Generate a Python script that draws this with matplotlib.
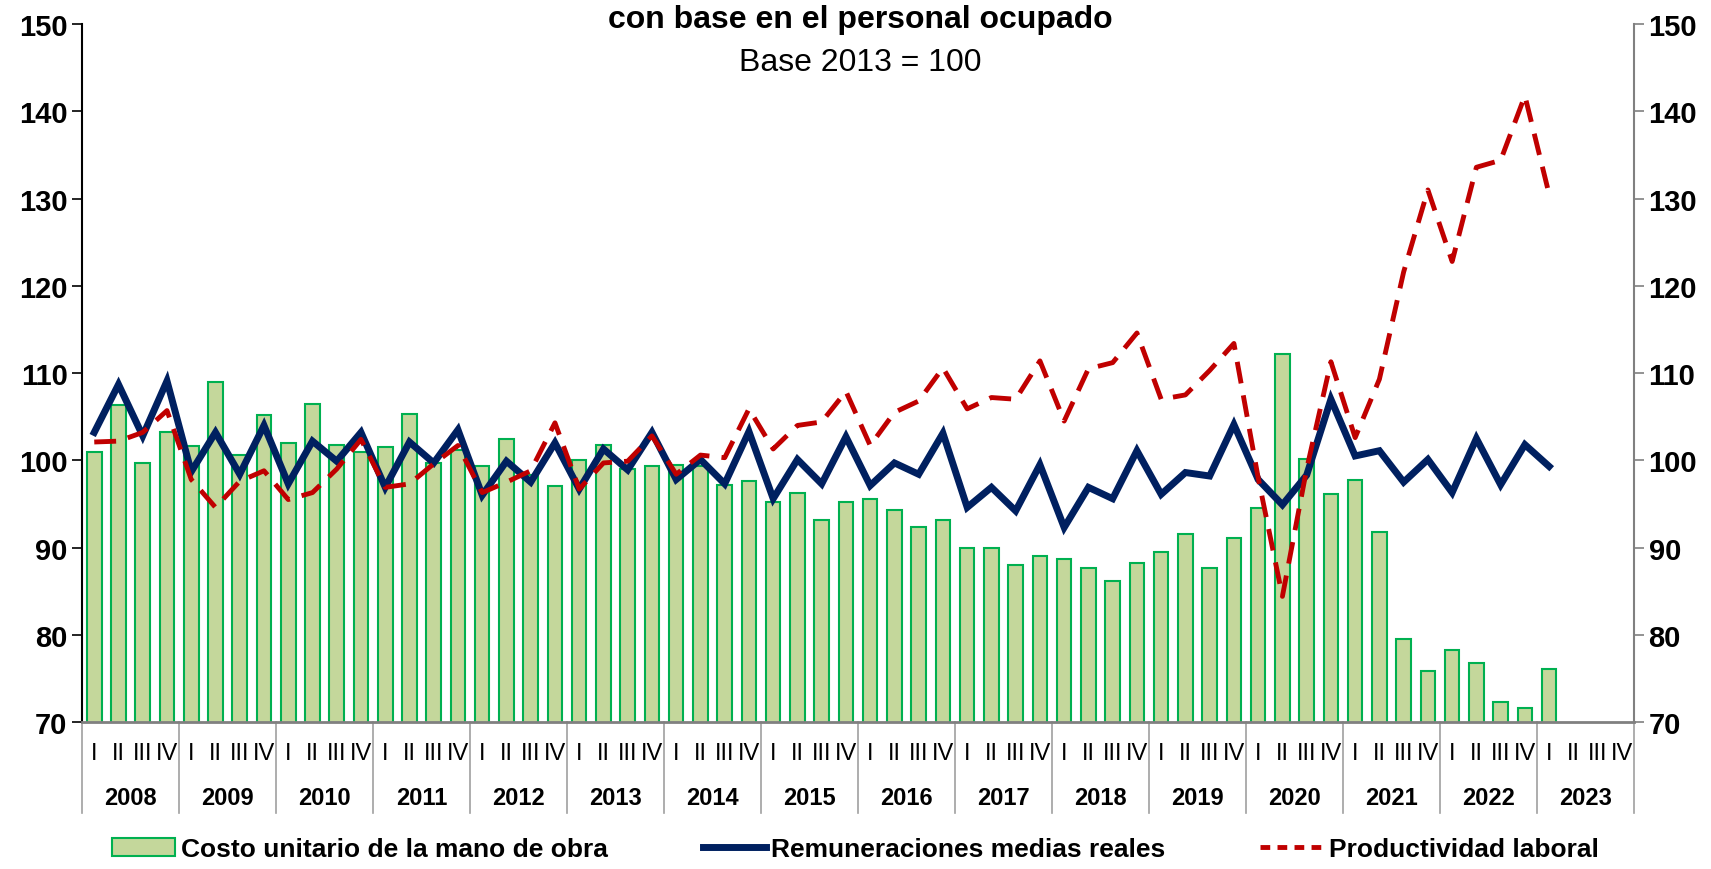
import numpy as np
import matplotlib
matplotlib.use("Agg")
import matplotlib.pyplot as plt
from matplotlib.lines import Line2D
from matplotlib.patches import Patch
import matplotlib.transforms as mtransforms

# datos trimestrales 2008-I a 2023-I
anios = [str(a) for a in range(2008, 2024)]
trimestres = ["I", "II", "III", "IV"]

costo_unitario = [101.0, 106.3, 99.7, 103.2,
                  101.6, 109.0, 100.6, 105.2,
                  102.0, 106.4, 101.7, 100.9,
                  101.5, 105.3, 99.7, 101.2,
                  99.4, 102.4, 98.3, 97.1,
                  100.0, 101.7, 99.0, 99.4,
                  99.5, 99.3, 97.2, 97.6,
                  95.2, 96.2, 93.2, 95.2,
                  95.6, 94.3, 92.3, 93.1,
                  90.0, 90.0, 88.0, 89.0,
                  88.7, 87.6, 86.2, 88.2,
                  89.5, 91.6, 87.7, 91.1,
                  94.5, 112.2, 100.2, 96.1,
                  97.8, 91.8, 79.5, 75.8,
                  78.2, 76.8, 72.3, 71.6,
                  76.1]

remuneraciones = [103.2, 108.7, 102.8, 109.1,
                  98.7, 103.2, 98.4, 104.0,
                  97.3, 102.2, 99.9, 103.2,
                  96.9, 102.1, 99.7, 103.5,
                  96.0, 99.9, 97.5, 102.0,
                  96.7, 101.3, 98.9, 103.2,
                  97.8, 100.1, 97.3, 103.3,
                  95.6, 100.1, 97.3, 102.7,
                  97.1, 99.7, 98.4, 103.1,
                  94.6, 96.9, 94.2, 99.5,
                  92.3, 96.9, 95.6, 101.1,
                  96.1, 98.6, 98.2, 104.1,
                  97.8, 94.9, 98.3, 107.0,
                  100.5, 101.1, 97.5, 100.1,
                  96.3, 102.5, 97.2, 101.8,
                  99.3]

productividad = [102.1, 102.2, 103.2, 105.7,
                 97.8, 94.6, 97.6, 98.8,
                 95.5, 96.3, 99.0, 102.4,
                 96.9, 97.3, 99.6, 101.7,
                 96.3, 97.5, 98.8, 104.3,
                 96.7, 99.7, 99.9, 102.8,
                 98.4, 100.6, 100.3, 105.9,
                 101.3, 104.0, 104.4, 107.9,
                 101.7, 105.5, 106.8, 110.6,
                 105.9, 107.2, 107.0, 111.4,
                 104.5, 110.5, 111.2, 114.6,
                 107.0, 107.5, 110.3, 113.4,
                 98.0, 84.4, 99.0, 111.3,
                 102.6, 109.3, 121.6, 131.0,
                 122.8, 133.6, 134.4, 141.8,
                 130.5]

plt.rcParams['font.family'] = ['Liberation Sans', 'DejaVu Sans']

fig = plt.figure(figsize=(17.11, 8.70), dpi=100)
ax = fig.add_axes([0.048, 0.169, 0.907, 0.802])

n_slots = len(anios) * 4
x = np.arange(len(costo_unitario))

ax.bar(x, costo_unitario, width=0.6, bottom=0, color="#C4D79B",
       edgecolor="#00B050", linewidth=1.5, zorder=2)
ax.plot(x, remuneraciones, color="#002060", linewidth=5, zorder=3,
        solid_joinstyle="miter")
ax.plot(x, productividad, color="#C00000", linewidth=3.5, zorder=4,
        dashes=(4.5, 2.5))

ax.set_xlim(-0.5, n_slots - 0.5)
ax.set_ylim(70, 150)
ax.set_yticks(range(70, 151, 10))
ax.tick_params(axis="y", labelsize=21, length=7, width=1.2, direction="out")
for lb in ax.get_yticklabels():
    lb.set_fontweight("bold")
ax.set_xticks([])

ax.spines["top"].set_visible(False)
ax.spines["right"].set_visible(False)
ax.spines["left"].set_linewidth(1.5)
ax.spines["bottom"].set_color("#808080")
ax.spines["bottom"].set_linewidth(2)

ax2 = ax.twinx()
ax2.set_ylim(70, 150)
ax2.set_yticks(range(70, 151, 10))
ax2.tick_params(axis="y", labelsize=21, length=7, width=1.2, color="#808080")
for lb in ax2.get_yticklabels():
    lb.set_fontweight("bold")
for s in ["top", "left", "bottom"]:
    ax2.spines[s].set_visible(False)
ax2.spines["right"].set_color("#808080")
ax2.spines["right"].set_linewidth(1.5)

# eje de categorias de dos niveles
trans = mtransforms.blended_transform_factory(ax.transData, ax.transAxes)
for k in range(n_slots):
    ax.text(k, -0.045, trimestres[k % 4], transform=trans, ha="center",
            va="center", fontsize=17)
for j, a in enumerate(anios):
    ax.text(j * 4 + 1.5, -0.108, a, transform=trans, ha="center",
            va="center", fontsize=17, fontweight="bold")
for j in range(len(anios) + 1):
    ax.plot([j * 4 - 0.5, j * 4 - 0.5], [0, -0.13], transform=trans,
            color="#A0A0A0", linewidth=1.2, clip_on=False)

fig.text(0.503, 0.977, "con base en el personal ocupado", ha="center",
         va="center", fontsize=23, fontweight="bold")
fig.text(0.503, 0.928, "Base 2013 = 100", ha="center", va="center",
         fontsize=23)

handles = [Patch(facecolor="#C4D79B", edgecolor="#00B050", linewidth=1.5),
           Line2D([0], [0], color="#002060", linewidth=5),
           Line2D([0], [0], color="#C00000", linewidth=3.5, dashes=(2, 1.5))]
labels = ["Costo unitario de la mano de obra", "Remuneraciones medias reales",
          "Productividad laboral"]
leg = fig.legend(handles, labels, loc="center", bbox_to_anchor=(0.5, 0.023),
                 ncol=3, frameon=False, handlelength=2.4, columnspacing=3.6,
                 handletextpad=0.2, prop={"size": 19, "weight": "bold"})

fig.savefig("out.png", dpi=100)
